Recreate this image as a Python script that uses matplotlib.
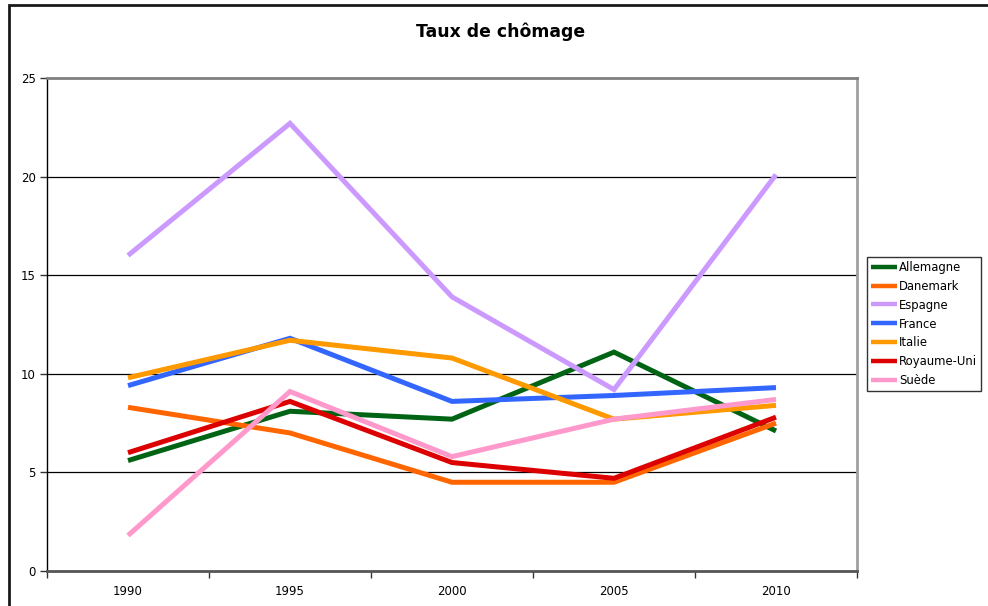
import matplotlib
matplotlib.use("Agg")
import matplotlib.pyplot as plt
from matplotlib.patches import Rectangle

years = ["1990", "1995", "2000", "2005", "2010"]
allemagne = [5.6, 8.1, 7.7, 11.1, 7.1]
danemark = [8.3, 7.0, 4.5, 4.5, 7.5]
espagne = [16.0, 22.7, 13.9, 9.2, 20.1]
france = [9.4, 11.8, 8.6, 8.9, 9.3]
italie = [9.8, 11.7, 10.8, 7.7, 8.4]
royaume_uni = [6.0, 8.6, 5.5, 4.7, 7.8]
suede = [1.8, 9.1, 5.8, 7.7, 8.7]

series = [
    ("Allemagne", allemagne, "#006414"),
    ("Danemark", danemark, "#ff6600"),
    ("Espagne", espagne, "#cc99ff"),
    ("France", france, "#3366ff"),
    ("Italie", italie, "#ff9900"),
    ("Royaume-Uni", royaume_uni, "#dd0000"),
    ("Suède", suede, "#ff99cc"),
]

plt.rcParams['font.family'] = ['DejaVu Sans']
fig = plt.figure(figsize=(9.88, 6.06), dpi=100)
W, H = 988, 606

# outer chart frame
fig.patches.append(Rectangle((9 / W, -0.05), 1.2, 601 / H + 0.05,
                             transform=fig.transFigure, fill=False,
                             edgecolor="#1a1a1a", linewidth=2.0, zorder=0))

ax = fig.add_axes([47 / W, (H - 571) / H, (857 - 47) / W, (571 - 78) / H])

x = list(range(len(years)))
for name, vals, col in series:
    ax.plot(x, vals, color=col, linewidth=3.6, label=name, solid_capstyle='butt',
            solid_joinstyle='miter', zorder=3)

ax.set_xlim(-0.5, len(years) - 0.5)
ax.set_ylim(0, 25)
ax.set_yticks([0, 5, 10, 15, 20, 25])
ax.set_yticklabels(["0", "5", "10", "15", "20", "25"])
for yv in [5, 10, 15, 20]:
    ax.axhline(yv, color="#000000", linewidth=0.9, zorder=1)

ax.set_xticks([i - 0.5 for i in range(len(years) + 1)])
ax.set_xticklabels([])
ax.set_xticks(x, minor=True)
ax.set_xticklabels(years, minor=True)
ax.tick_params(axis='x', which='major', length=5, width=1, color="#333333", direction='out')
ax.tick_params(axis='x', which='minor', length=0, pad=10, labelsize=8.5)
ax.tick_params(axis='y', length=5, width=1, color="#333333", direction='out', pad=3, labelsize=8.5)

ax.spines['left'].set_color("#000000")
ax.spines['left'].set_linewidth(1.0)
ax.spines['bottom'].set_color("#555555")
ax.spines['bottom'].set_linewidth(2.0)
ax.spines['top'].set_color("#808080")
ax.spines['top'].set_linewidth(2.0)
ax.spines['right'].set_color("#a0a0a0")
ax.spines['right'].set_linewidth(2.0)

fig.text(501 / W, (H - 32) / H, "Taux de chômage", ha='center', va='center',
         fontsize=12.4, fontweight='bold')

leg = ax.legend(loc='center left', bbox_to_anchor=(867 / W, (H - 324) / H),
                bbox_transform=fig.transFigure, frameon=True, fancybox=False,
                fontsize=8.4, handlelength=2.3, handletextpad=0.15,
                labelspacing=0.51, borderpad=0.3, borderaxespad=0)
leg.get_frame().set_edgecolor("#000000")
leg.get_frame().set_linewidth(1.0)
for lh in leg.get_lines():
    lh.set_linewidth(3.2)

fig.savefig("out.png", dpi=100)
